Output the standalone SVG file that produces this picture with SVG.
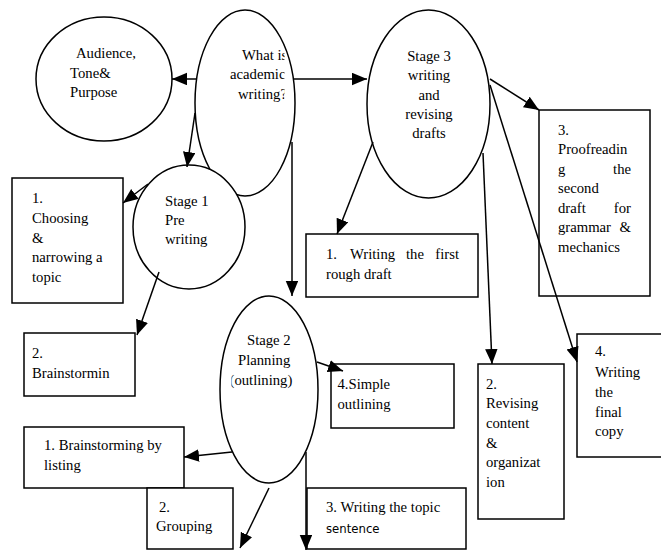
<svg xmlns="http://www.w3.org/2000/svg" width="661" height="550" viewBox="0 0 661 550">
<style>
.shape{fill:#fff;stroke:#000;stroke-width:1.5}
.t{font-family:"Liberation Serif","Times New Roman",serif;font-size:14.7px;fill:#000}
.s{font-family:"DejaVu Sans Condensed","DejaVu Sans",sans-serif;font-stretch:condensed;font-size:13px;fill:#000}
.c{fill:none;stroke:#000;stroke-width:1.5}
.e{text-anchor:end}
.m{text-anchor:middle}
</style>
<defs>
<marker id="ah" markerUnits="userSpaceOnUse" markerWidth="17" markerHeight="14" refX="15" refY="6.25" orient="auto">
<path d="M0,0 L15,6.25 L0,12.5 z" fill="#000"/>
</marker>
<clipPath id="clipWhat"><rect x="0" y="0" width="284.5" height="200"/></clipPath>
<clipPath id="clipOut"><rect x="231.5" y="300" width="200" height="200"/></clipPath>
</defs>

<g id="audience">
<ellipse class="shape" cx="104" cy="79" rx="68" ry="62"/>
<text class="t" x="76" y="58.3">Audience,</text>
<text class="t" x="70" y="77.5">Tone&amp;</text>
<text class="t" x="70" y="96.7">Purpose</text>
</g>

<g id="what">
<ellipse class="shape" cx="245" cy="103" rx="50" ry="93"/>
<g clip-path="url(#clipWhat)">
<text class="t" x="242" y="60">What is</text>
<text class="t" x="230" y="79">academic</text>
<text class="t" x="238" y="98.5">writing?</text>
</g>
</g>

<g id="stage1">
<ellipse class="shape" cx="189" cy="227" rx="56" ry="62"/>
<text class="t" x="165" y="206">Stage 1</text>
<text class="t" x="165" y="225">Pre</text>
<text class="t" x="165" y="244">writing</text>
</g>

<g id="stage3">
<ellipse class="shape" cx="428.5" cy="104" rx="61.5" ry="94"/>
<text class="t m" x="429" y="61">Stage 3</text>
<text class="t m" x="429" y="80">writing</text>
<text class="t m" x="429" y="99.5">and</text>
<text class="t m" x="429" y="118.5">revising</text>
<text class="t m" x="429" y="138">drafts</text>
</g>

<g id="stage2">
<ellipse class="shape" cx="269" cy="389.5" rx="49" ry="93.5"/>
<text class="t" x="247" y="345">Stage 2</text>
<text class="t" x="238" y="365">Planning</text>
<g clip-path="url(#clipOut)"><text class="t" x="229.5" y="384.5">(outlining)</text></g>
</g>

<g id="box-choosing">
<rect class="shape" x="12" y="178" width="111" height="125"/>
<text class="t" x="32" y="203.3">1.</text>
<text class="t" x="32" y="223">Choosing</text>
<text class="t" x="32" y="242.7">&amp;</text>
<text class="t" x="32" y="262.3">narrowing a</text>
<text class="t" x="32" y="281.8">topic</text>
</g>

<g id="box-brainstormin">
<rect class="shape" x="24" y="333" width="111" height="63"/>
<text class="t" x="32" y="358">2.</text>
<text class="t" x="32" y="378">Brainstormin</text>
</g>

<g id="box-listing">
<rect class="shape" x="24" y="427" width="160" height="61"/>
<text class="t" x="44" y="450">1. Brainstorming by</text>
<text class="t" x="44" y="469.5">listing</text>
</g>

<g id="box-grouping">
<rect class="shape" x="147" y="488" width="86" height="61"/>
<text class="t" x="159" y="512">2.</text>
<text class="t" x="156" y="530.5">Grouping</text>
</g>

<g id="box-topic">
<rect class="shape" x="307" y="488" width="159" height="61"/>
<text class="t" x="326" y="512">3. Writing the topic</text>
<text class="s" x="326" y="532.5">sentence</text>
</g>

<g id="box-simple">
<rect class="shape" x="331" y="364" width="123" height="64"/>
<text class="t" x="337.5" y="389">4.Simple</text>
<text class="t" x="337.5" y="409">outlining</text>
</g>

<g id="box-firstdraft">
<rect class="shape" x="306" y="234" width="172" height="63"/>
<text class="t" x="326" y="259">1.</text>
<text class="t" x="350" y="259">Writing</text>
<text class="t" x="406" y="259">the</text>
<text class="t e" x="459" y="259">first</text>
<text class="t" x="326" y="278.5">rough draft</text>
</g>

<g id="box-proofreading">
<rect class="shape" x="539" y="110" width="111" height="186"/>
<text class="t" x="558" y="134.5">3.</text>
<text class="t" x="558" y="154">Proofreadin</text>
<text class="t" x="558" y="173.5">g</text>
<text class="t e" x="631" y="173.5">the</text>
<text class="t" x="558" y="193">second</text>
<text class="t" x="558" y="212.5">draft</text>
<text class="t e" x="631" y="212.5">for</text>
<text class="t" x="558" y="232">grammar</text>
<text class="t e" x="631" y="232">&amp;</text>
<text class="t" x="558" y="251.5">mechanics</text>
</g>

<g id="box-revising">
<rect class="shape" x="478" y="364" width="86" height="155"/>
<text class="t" x="486" y="388.5">2.</text>
<text class="t" x="486" y="408.3">Revising</text>
<text class="t" x="486" y="428">content</text>
<text class="t" x="486" y="447.7">&amp;</text>
<text class="t" x="486" y="467.4">organizat</text>
<text class="t" x="486" y="487">ion</text>
</g>

<g id="box-finalcopy">
<rect class="shape" x="577" y="334" width="90" height="123"/>
<text class="t" x="595" y="356">4.</text>
<text class="t" x="595" y="376.5">Writing</text>
<text class="t" x="595" y="396.5">the</text>
<text class="t" x="595" y="416.5">final</text>
<text class="t" x="595" y="436">copy</text>
</g>

<g id="connectors">
<line class="c" x1="197" y1="79" x2="172" y2="79" marker-end="url(#ah)"/>
<line class="c" x1="293" y1="79" x2="367" y2="79" marker-end="url(#ah)"/>
<line class="c" x1="195" y1="113" x2="187" y2="167" marker-end="url(#ah)"/>
<line class="c" x1="292" y1="142" x2="292" y2="296" marker-end="url(#ah)"/>
<line class="c" x1="148" y1="184" x2="123" y2="203" marker-end="url(#ah)"/>
<line class="c" x1="159" y1="272" x2="137" y2="335" marker-end="url(#ah)"/>
<line class="c" x1="232" y1="452" x2="184" y2="457" marker-end="url(#ah)"/>
<line class="c" x1="269" y1="488" x2="240" y2="548" marker-end="url(#ah)"/>
<line class="c" x1="306" y1="452" x2="306" y2="550" marker-end="url(#ah)"/>
<line class="c" x1="317" y1="362" x2="343" y2="371" marker-end="url(#ah)"/>
<line class="c" x1="373" y1="142" x2="337" y2="234" marker-end="url(#ah)"/>
<line class="c" x1="483" y1="153" x2="492" y2="364" marker-end="url(#ah)"/>
<line class="c" x1="490" y1="85" x2="577" y2="362" marker-end="url(#ah)"/>
<line class="c" x1="490" y1="79" x2="539" y2="110" marker-end="url(#ah)"/>
</g>
</svg>
